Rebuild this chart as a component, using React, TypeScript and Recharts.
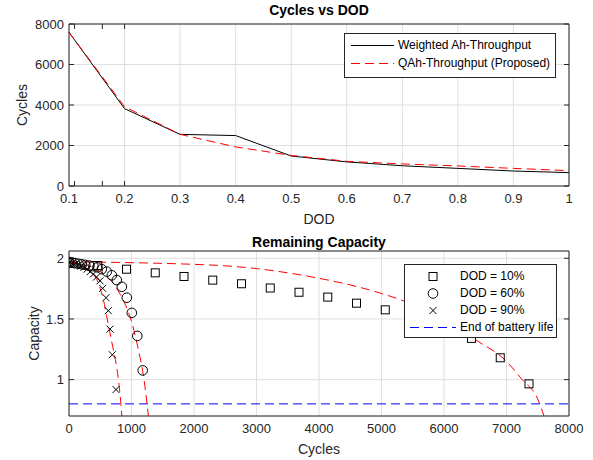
import React from "react";
import {
  ComposedChart,
  Line,
  Scatter,
  XAxis,
  YAxis,
  CartesianGrid,
  ReferenceLine,
} from "recharts";

// ---- Cycles vs DOD ----
const dod = [0.1, 0.2, 0.3, 0.4, 0.5, 0.6, 0.7, 0.8, 0.9, 1];
const weightedAh = [7590, 3820, 2550, 2490, 1480, 1190, 1000, 870, 740, 660];
const qAh = [7590, 3920, 2550, 1930, 1510, 1220, 1090, 990, 870, 760];
const dodTicks = [0.1, 0.2, 0.3, 0.4, 0.5, 0.6, 0.7, 0.8, 0.9, 1];
const cycleTicksTop = [0, 2000, 4000, 6000, 8000];

// ---- Remaining Capacity ----
const sqCycles = [0, 460, 920, 1380, 1840, 2300, 2760, 3220, 3680, 4140, 4600, 5060, 5520, 5980, 6440, 6900, 7360];
const sqCap = [1.96, 1.94, 1.91, 1.88, 1.85, 1.82, 1.79, 1.755, 1.72, 1.68, 1.63, 1.575, 1.51, 1.43, 1.34, 1.18, 0.965];

const ciCycles = [0, 45, 95, 150, 205, 260, 325, 390, 455, 525, 605, 685, 765, 845, 925, 1005, 1093, 1179];
const ciCap = [1.97, 1.965, 1.96, 1.955, 1.95, 1.945, 1.94, 1.935, 1.925, 1.91, 1.89, 1.86, 1.82, 1.765, 1.675, 1.55, 1.36, 1.076];

const xCycles = [0, 45, 90, 140, 190, 240, 290, 340, 390, 440, 496, 539, 592, 629, 656, 693, 752];
const xCap = [1.96, 1.955, 1.95, 1.945, 1.935, 1.925, 1.91, 1.89, 1.87, 1.845, 1.814, 1.752, 1.675, 1.568, 1.416, 1.205, 0.918];

const fit10Cycles = [0, 500, 1000, 1500, 2000, 2500, 3000, 3500, 4000, 4500, 5000, 5500, 6000, 6500, 7000, 7250, 7500, 7600];
const fit10Cap = [1.97, 1.968, 1.964, 1.958, 1.95, 1.938, 1.915, 1.88, 1.835, 1.78, 1.71, 1.62, 1.5, 1.33, 1.15, 1.0, 0.84, 0.7];

const fit60Cycles = [0, 200, 400, 600, 700, 800, 900, 1000, 1100, 1200, 1270];
const fit60Cap = [1.965, 1.95, 1.92, 1.85, 1.8, 1.72, 1.62, 1.48, 1.27, 1.0, 0.7];

const fit90Cycles = [0, 100, 200, 300, 400, 450, 500, 550, 600, 650, 700, 760, 800, 820, 845];
const fit90Cap = [1.965, 1.955, 1.94, 1.91, 1.86, 1.82, 1.75, 1.66, 1.53, 1.4, 1.27, 1.11, 0.96, 0.86, 0.7];

const endOfLife = 0.8;
const cycleTicks = [0, 1000, 2000, 3000, 4000, 5000, 6000, 7000, 8000];
const capTicks = [1, 1.5, 2];

const pts = (xs: number[], ys: number[]) => xs.map((c, i) => ({ c, v: ys[i] }));

const AX = "#262626";
const GRID = "#dfdfdf";
const FONT = '"Liberation Sans", Arial, Helvetica, sans-serif';
const DASH = "9 5";

const NoTick = () => <g />;

const SquareMark = (p: any) => (
  <rect x={p.cx - 4} y={p.cy - 4} width={8} height={8} fill="none" stroke="#000" strokeWidth={1} />
);
const CircleMark = (p: any) => (
  <circle cx={p.cx} cy={p.cy} r={4.8} fill="none" stroke="#000" strokeWidth={1} />
);
const XMark = (p: any) => (
  <path
    d={`M${p.cx - 3.5},${p.cy - 3.5}L${p.cx + 3.5},${p.cy + 3.5}M${p.cx - 3.5},${p.cy + 3.5}L${p.cx + 3.5},${p.cy - 3.5}`}
    stroke="#000"
    strokeWidth={1}
  />
);

// inward tick marks + box on the top/right, as MATLAB draws them
const boxAxes = (xDomain: number[], xTicks: number[], yDomain: number[], yTicks: number[]) => [
  <XAxis key="xb" xAxisId="xb" type="number" domain={xDomain} ticks={xTicks} orientation="bottom" mirror axisLine={false} tickSize={5} tick={NoTick} tickLine={{ stroke: AX }} allowDataOverflow />,
  <XAxis key="xt" xAxisId="xt" type="number" domain={xDomain} ticks={xTicks} orientation="top" mirror axisLine={{ stroke: AX }} tickSize={5} tick={NoTick} tickLine={{ stroke: AX }} allowDataOverflow />,
  <YAxis key="yl" yAxisId="yl" type="number" domain={yDomain} ticks={yTicks} orientation="left" mirror axisLine={false} tickSize={5} tick={NoTick} tickLine={{ stroke: AX }} allowDataOverflow />,
  <YAxis key="yr" yAxisId="yr" type="number" domain={yDomain} ticks={yTicks} orientation="right" mirror axisLine={{ stroke: AX }} tickSize={5} tick={NoTick} tickLine={{ stroke: AX }} allowDataOverflow />,
];

const tickStyle = { fill: AX, fontSize: 13, fontFamily: FONT };
const labelStyle = { fill: AX, fontSize: 14, fontFamily: FONT };

const titleStyle = (top: number): React.CSSProperties => ({
  position: "absolute",
  top,
  left: 69,
  width: 500,
  textAlign: "center",
  fontFamily: FONT,
  fontWeight: "bold",
  fontSize: 14,
  color: "#000",
  lineHeight: "16px",
});

const legendBox = (left: number, top: number, width: number, height: number): React.CSSProperties => ({
  position: "absolute",
  left,
  top,
  width,
  height,
  boxSizing: "border-box",
  background: "#fff",
  border: `1px solid ${AX}`,
  fontFamily: FONT,
  fontSize: 12,
  color: "#000",
});

// dashed or solid legend sample line
const Stroke = ({ color, dashed, left, width }: { color: string; dashed?: boolean; left: number; width: number }) => (
  <div
    style={{
      position: "absolute",
      left,
      top: 8,
      width,
      height: 1,
      background: dashed
        ? `repeating-linear-gradient(to right, ${color} 0px, ${color} 9px, transparent 9px, transparent 14px)`
        : color,
    }}
  />
);

const Row = ({ top, sample, label, textLeft }: { top: number; sample: React.ReactNode; label: string; textLeft: number }) => (
  <div style={{ position: "absolute", top, left: 0, height: 17, width: "100%" }}>
    {sample}
    <span style={{ position: "absolute", left: textLeft, top: 1, whiteSpace: "nowrap", lineHeight: "15px" }}>{label}</span>
  </div>
);

const MarkSample = ({ children }: { children: React.ReactNode }) => (
  <svg width={60} height={17} style={{ position: "absolute", left: 0, top: 0 }}>
    {children}
  </svg>
);

export default function App() {
  const topData = dod.map((d, i) => ({ d, w: weightedAh[i], q: qAh[i] }));

  return (
    <div style={{ position: "absolute", left: 0, top: 0, width: 593, height: 460, background: "#fff", fontFamily: FONT }}>
      <div style={titleStyle(2)}>Cycles vs DOD</div>
      <div style={{ position: "absolute", left: 0, top: 0 }}>
        <ComposedChart width={593} height={230} data={topData} margin={{ top: 24, right: 24, bottom: 0, left: 0 }}>
          <CartesianGrid stroke={GRID} />
          <XAxis
            dataKey="d"
            type="number"
            domain={[0.1, 1]}
            ticks={dodTicks}
            tickFormatter={(v: number) => String(v)}
            height={44}
            tickSize={0}
            tickMargin={8}
            tick={tickStyle}
            axisLine={{ stroke: AX }}
            label={{ value: "DOD", position: "insideBottom", offset: 6, ...labelStyle }}
          />
          <YAxis
            type="number"
            domain={[0, 8000]}
            ticks={cycleTicksTop}
            width={69}
            tickSize={0}
            tickMargin={5}
            tick={tickStyle}
            axisLine={{ stroke: AX }}
            label={{ value: "Cycles", angle: -90, position: "insideLeft", offset: 22, style: { textAnchor: "middle" }, ...labelStyle }}
          />
          {boxAxes([0.1, 1], dodTicks, [0, 8000], cycleTicksTop)}
          <Line dataKey="w" type="linear" stroke="#000" strokeWidth={1} dot={false} isAnimationActive={false} />
          <Line dataKey="q" type="linear" stroke="#ff0000" strokeWidth={1} strokeDasharray={DASH} dot={false} isAnimationActive={false} />
        </ComposedChart>
      </div>
      <div style={legendBox(344, 33, 212, 45)}>
        <Row top={3} textLeft={53} label="Weighted Ah-Throughput" sample={<Stroke color="#000" left={6} width={43} />} />
        <Row top={21} textLeft={53} label="QAh-Throughput (Proposed)" sample={<Stroke color="#ff0000" dashed left={6} width={43} />} />
      </div>

      <div style={titleStyle(234)}>Remaining Capacity</div>
      <div style={{ position: "absolute", left: 0, top: 230 }}>
        <ComposedChart width={593} height={230} margin={{ top: 21, right: 24, bottom: 0, left: 0 }}>
          <CartesianGrid stroke={GRID} />
          <XAxis
            dataKey="c"
            type="number"
            domain={[0, 8000]}
            ticks={cycleTicks}
            height={44}
            tickSize={0}
            tickMargin={8}
            tick={tickStyle}
            axisLine={{ stroke: AX }}
            allowDataOverflow
            label={{ value: "Cycles", position: "insideBottom", offset: 6, ...labelStyle }}
          />
          <YAxis
            type="number"
            domain={[0.7, 2.06]}
            ticks={capTicks}
            width={69}
            tickSize={0}
            tickMargin={5}
            tick={tickStyle}
            axisLine={{ stroke: AX }}
            allowDataOverflow
            label={{ value: "Capacity", angle: -90, position: "insideLeft", offset: 34, style: { textAnchor: "middle" }, ...labelStyle }}
          />
          {boxAxes([0, 8000], cycleTicks, [0.7, 2.06], capTicks)}
          <ReferenceLine y={endOfLife} stroke="#0000ff" strokeWidth={1} strokeDasharray={DASH} />
          <Line data={pts(fit10Cycles, fit10Cap)} dataKey="v" type="monotone" stroke="#ff0000" strokeWidth={1} strokeDasharray={DASH} dot={false} isAnimationActive={false} />
          <Line data={pts(fit60Cycles, fit60Cap)} dataKey="v" type="monotone" stroke="#ff0000" strokeWidth={1} strokeDasharray={DASH} dot={false} isAnimationActive={false} />
          <Line data={pts(fit90Cycles, fit90Cap)} dataKey="v" type="monotone" stroke="#ff0000" strokeWidth={1} strokeDasharray={DASH} dot={false} isAnimationActive={false} />
          <Scatter data={pts(sqCycles, sqCap)} dataKey="v" shape={SquareMark} isAnimationActive={false} />
          <Scatter data={pts(ciCycles, ciCap)} dataKey="v" shape={CircleMark} isAnimationActive={false} />
          <Scatter data={pts(xCycles, xCap)} dataKey="v" shape={XMark} isAnimationActive={false} />
        </ComposedChart>
      </div>
      <div style={legendBox(404, 264, 153, 74)}>
        <Row top={3} textLeft={55} label="DOD = 10%" sample={<MarkSample><rect x={24} y={4.5} width={8} height={8} fill="none" stroke="#000" /></MarkSample>} />
        <Row top={20} textLeft={55} label="DOD = 60%" sample={<MarkSample><circle cx={28} cy={8.5} r={4.8} fill="none" stroke="#000" /></MarkSample>} />
        <Row top={37} textLeft={55} label="DOD = 90%" sample={<MarkSample><path d="M24.5,5L31.5,12M24.5,12L31.5,5" stroke="#000" /></MarkSample>} />
        <Row top={54} textLeft={55} label="End of battery life" sample={<Stroke color="#0000ff" dashed left={5} width={46} />} />
      </div>
    </div>
  );
}
